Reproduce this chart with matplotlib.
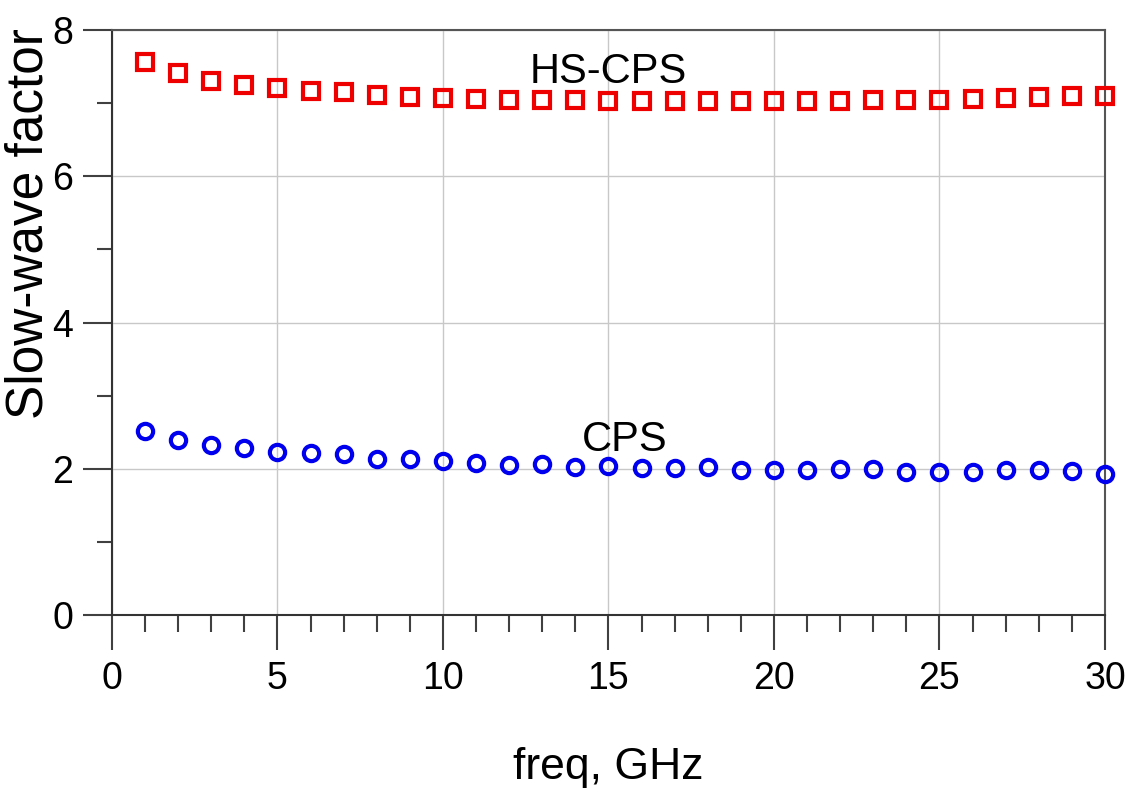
import matplotlib
matplotlib.use('Agg')
import matplotlib.pyplot as plt
from matplotlib.ticker import MultipleLocator

plt.rcParams['font.family'] = ['Liberation Sans', 'DejaVu Sans']

# frequency points (GHz)
freq = list(range(1, 31))
# slow-wave factor
hs_cps = [7.57, 7.41, 7.31, 7.25, 7.21, 7.17, 7.15, 7.11, 7.09, 7.07,
          7.06, 7.05, 7.04, 7.04, 7.03, 7.03, 7.03, 7.03, 7.03, 7.03,
          7.03, 7.03, 7.04, 7.05, 7.05, 7.06, 7.07, 7.08, 7.10, 7.10]
cps = [2.51, 2.40, 2.33, 2.28, 2.23, 2.21, 2.20, 2.13, 2.13, 2.11,
       2.08, 2.05, 2.06, 2.03, 2.04, 2.01, 2.01, 2.03, 1.98, 1.98,
       1.98, 2.00, 2.00, 1.96, 1.96, 1.96, 1.98, 1.98, 1.97, 1.93]

fig = plt.figure(figsize=(11.32, 7.93), dpi=100)
ax = fig.add_axes([0.0989, 0.2245, 0.8772, 0.7375])

ax.plot(freq, hs_cps, linestyle='none', marker='s', ms=12, mew=3,
        mfc='none', mec='#ee0000', clip_on=False, zorder=3)
ax.plot(freq, cps, linestyle='none', marker='o', ms=11, mew=3,
        mfc='none', mec='#0000ee', clip_on=False, zorder=3)

ax.text(15.0, 7.43, 'HS-CPS', fontsize=30, ha='center', va='center')
ax.text(15.5, 2.40, 'CPS', fontsize=30, ha='center', va='center')

ax.set_xlim(0, 30)
ax.set_ylim(0, 8)
ax.xaxis.set_major_locator(MultipleLocator(5))
ax.xaxis.set_minor_locator(MultipleLocator(1))
ax.yaxis.set_major_locator(MultipleLocator(2))
ax.yaxis.set_minor_locator(MultipleLocator(1))

ax.grid(True, which='major', color='#c8c8c8', linewidth=1.0, zorder=0)
ax.set_axisbelow(True)

ax.tick_params(axis='x', which='major', direction='out', length=25, width=1.5,
               color='#404040', labelsize=27, pad=8)
ax.tick_params(axis='x', which='minor', direction='out', length=12, width=1.5,
               color='#404040')
ax.tick_params(axis='y', which='major', direction='out', length=21, width=1.5,
               color='#404040', labelsize=27, pad=7)
ax.tick_params(axis='y', which='minor', direction='out', length=11, width=1.5,
               color='#404040')

for side in ['left', 'bottom']:
    ax.spines[side].set_color('#333333')
    ax.spines[side].set_linewidth(1.5)
for side in ['top', 'right']:
    ax.spines[side].set_color('#555555')
    ax.spines[side].set_linewidth(1.5)

ax.set_xlabel('freq, GHz', fontsize=32, labelpad=36)
ax.set_ylabel('Slow-wave factor', fontsize=37)
# label sits high on the left side in the original
ax.yaxis.set_label_coords(-0.059, 0.67)

plt.savefig('out.png', dpi=100)
plt.close()
